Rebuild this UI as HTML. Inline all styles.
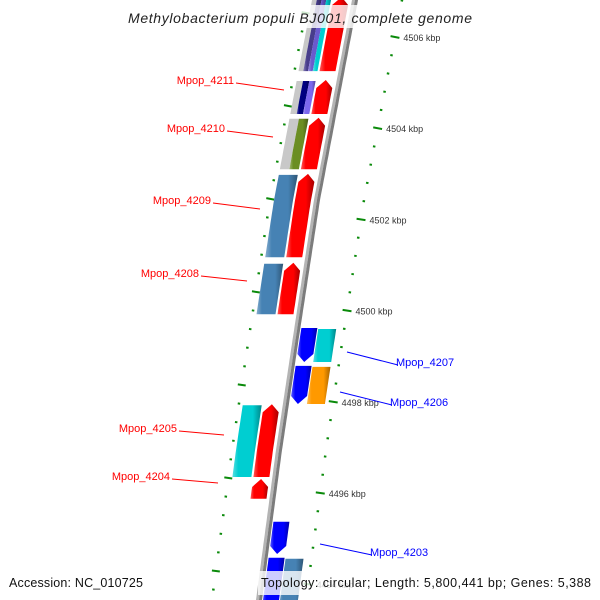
<!DOCTYPE html>
<html><head><meta charset="utf-8"><style>
html,body{margin:0;padding:0;background:#fff;}
svg{display:block;font-family:"Liberation Sans",sans-serif;}
</style></head><body>
<svg id="map" width="600" height="600" viewBox="0 0 600 600" xmlns="http://www.w3.org/2000/svg">
<defs id="defs"></defs>
<g id="ticks"></g>
<g id="backbone"></g>
<g id="features"></g>
<g id="labels"></g>
<rect x="124" y="5" width="352" height="23" fill="#fff" opacity="0.8"/>
<text x="300" y="23" text-anchor="middle" font-size="14" font-style="italic" fill="#222" textLength="344">Methylobacterium populi BJ001, complete genome</text>
<rect x="258" y="571" width="338" height="24" fill="#fff" opacity="0.8"/>
<text x="9" y="587" font-size="12.5" fill="#111" textLength="134">Accession: NC_010725</text>
<text x="591" y="587" text-anchor="end" font-size="12.5" fill="#111" textLength="330">Topology: circular; Length: 5,800,441 bp; Genes: 5,388</text>
</svg>
<script>
// ---- data ----
const tickLabelsKb = [4506, 4504, 4502, 4500, 4498, 4496];
const geneNames  = ["top-fwd","Mpop_4211","Mpop_4210","Mpop_4209","Mpop_4208","Mpop_4205","Mpop_4204","Mpop_4207","Mpop_4206","Mpop_4203","bottom-rev"];
const geneStart  = [4506.9, 4504.29, 4503.08, 4501.15, 4499.90, 4496.33, 4495.85, 4498.85, 4497.93, 4494.64, 4493.3];
const geneEnd    = [4505.23, 4505.08, 4504.25, 4503.02, 4501.07, 4497.97, 4496.33, 4499.64, 4498.81, 4495.39, 4494.60];
const geneStrand = [1,1,1,1,1,1,1,-1,-1,-1,-1];
const cogColors  = [["#c8c8c8","#483d8b","#6a5acd","#00ced1"],["#c8c8c8","#000080","#7b68ee"],["#c8c8c8","#6b8e23"],["#4682b4"],["#4682b4"],["#00ced1"],[],["#00ced1"],["#ff9900"],[],["#4682b4"]];
const showLabel  = [false,true,true,true,true,true,true,true,true,true,false];

// ---- layout (not data) ----
const bbY=[-20,0,200,350,450,600,620], bbX=[359,355,317,294,279,259,256];
function c(y){for(let i=0;i<bbY.length-1;i++){if(y<=bbY[i+1]||i==bbY.length-2){const t=(y-bbY[i])/(bbY[i+1]-bbY[i]);return bbX[i]+t*(bbX[i+1]-bbX[i]);}}}
function slope(y){return (c(y+1)-c(y-1))/2;}
function yOf(kb){return 37+(4506-kb)*45.6;}
const NS="http://www.w3.org/2000/svg";
function mk(tag,attrs,parent){const e=document.createElementNS(NS,tag);for(const k in attrs)e.setAttribute(k,attrs[k]);parent.appendChild(e);return e;}
const defs=document.getElementById('defs');
function shade(hex,f){let n=parseInt(hex.slice(1),16),r=n>>16,g=(n>>8)&255,b=n&255;
 if(f>0){r+= (255-r)*f;g+=(255-g)*f;b+=(255-b)*f;}else{r*=1+f;g*=1+f;b*=1+f;}
 return "rgb("+Math.round(r)+","+Math.round(g)+","+Math.round(b)+")";}
const grads={};
function grad(col){if(grads[col])return grads[col];const id="g"+Object.keys(grads).length;
 const g=mk('linearGradient',{id:id,x1:0,y1:0,x2:1,y2:0},defs);
 [[0,shade(col,0.35)],[0.2,col],[0.7,col],[1,shade(col,-0.35)]].forEach(s=>mk('stop',{offset:s[0],'stop-color':s[1]},g));
 grads[col]="url(#"+id+")";return grads[col];}

// backbone
const bb=document.getElementById('backbone');
function edge(off,y1,y2){const p=[];const n=Math.max(2,Math.ceil(Math.abs(y2-y1)/5));for(let i=0;i<=n;i++){const y=y1+(y2-y1)*i/n;p.push([c(y)+off,y]);}return p;}
function pts(a){return a.map(p=>p[0].toFixed(1)+","+p[1].toFixed(1)).join(" ");}
const bl=mk('polyline',{points:pts(edge(-1.5,-20,620)),fill:'none',stroke:'#b4b4b4','stroke-width':3},bb);

const bd=mk('polyline',{points:pts(edge(1.5,-20,620)),fill:'none',stroke:'#7c7c7c','stroke-width':3},bb);


// ticks
const tg=document.getElementById('ticks');
function tick(y,off,len){const s=slope(y);const nx=1/Math.sqrt(1+s*s),ny=-s*nx;const x0=c(y)+off;
 const l=mk('line',{x1:x0-nx*len/2,y1:y-ny*len/2,x2:x0+nx*len/2,y2:y+ny*len/2,stroke:'#0a8a0a','stroke-width':2},tg);
 return [x0+nx*len/2,y+ny*len/2];}
for(let kb=4507.2;kb>4493;kb-=0.4){const y=yOf(kb);const major=Math.abs(kb-Math.round(kb))<0.05&&Math.round(kb)%2==0;
 const e=tick(y,47,major?9:2.5);
 if(major){const t=mk('text',{x:e[0]+4,y:y+4,'font-size':9,fill:'#333'},tg);t.textContent=Math.round(kb)+" kbp";
  }}
for(let kb=4504.49+4*0.4*2.04/0.8*0;kb<4507.5;kb+=0.408){} 
for(let i=-5;i<40;i++){const kb=4504.49-i*0.408;const y=yOf(kb);if(y<-5||y>605)continue;tick(y,-47,(i%5==0)?8:2.5);}

// features
const fg=document.getElementById('features');
function geneShape(yTop,yBot,o1,o2,dir,col,name){const h=Math.min(8,(yBot-yTop)*0.45);let p;
 if(dir>0){p=edge(o1,yBot,yTop+h).concat([[c(yTop)+(o1+o2)/2,yTop]],edge(o2,yTop+h,yBot));}
 else{p=edge(o1,yTop,yBot-h).concat([[c(yBot)+(o1+o2)/2,yBot]],edge(o2,yBot-h,yTop));}
 const e=mk('polygon',{points:pts(p),fill:grad(col)},fg);}
function box(yTop,yBot,o1,o2,col,name){const p=edge(o1,yBot,yTop).concat(edge(o2,yTop,yBot));
 const e=mk('polygon',{points:pts(p),fill:col=="#c8c8c8"?col:grad(col)},fg);}
const labelPos={"Mpop_4211":[234,80,284,90],"Mpop_4210":[225,128,273,137],"Mpop_4209":[211,200,260,209],"Mpop_4208":[199,273,247,281],"Mpop_4205":[177,428,224,435],"Mpop_4204":[170,476,218,483],"Mpop_4207":[396,362,347,352],"Mpop_4206":[390,402,340,392],"Mpop_4203":[370,552,320,544]};
const lg=document.getElementById('labels');
for(let i=0;i<geneNames.length;i++){
 const yTop=yOf(Math.max(geneStart[i],geneEnd[i])),yBot=yOf(Math.min(geneStart[i],geneEnd[i]));
 const fwd=geneStrand[i]>0;
 const g1=fwd?-22:4,g2=fwd?-6:20,c1=fwd?-43:21,c2=fwd?-24:39;
 geneShape(yTop+1,yBot-1,g1,g2,geneStrand[i],fwd?"#ff0000":"#0000ff",'gene-'+geneNames[i].toLowerCase());
 const cols=cogColors[i];const w=(c2-c1)/Math.max(cols.length,1);
 cols.forEach((col,k)=>box(yTop+2,yBot-1,c1+k*w,c1+(k+1)*w,col,'cog-'+geneNames[i].toLowerCase()));
 if(showLabel[i]){const lp=labelPos[geneNames[i]];const color=fwd?"#ff0000":"#0000ff";
  const ln=mk('line',{x1:lp[0]+2,y1:lp[1]+3,x2:lp[2],y2:lp[3],stroke:color,'stroke-width':1},lg);
  
  const t=mk('text',{x:lp[0],y:lp[1]+4,'font-size':11,fill:color,'text-anchor':fwd?'end':'start'},lg);t.textContent=geneNames[i];
  }
}
</script>
</body></html>
